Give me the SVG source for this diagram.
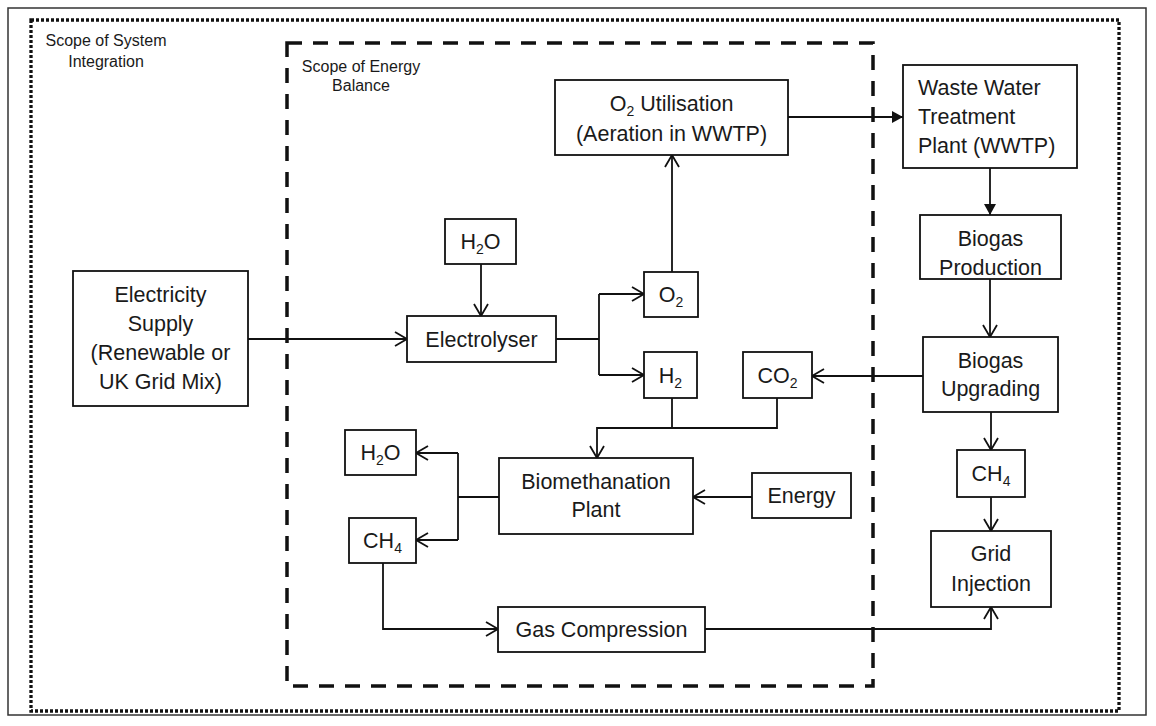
<svg xmlns="http://www.w3.org/2000/svg" width="1156" height="726" viewBox="0 0 1156 726">
<style>
.box{fill:#fff;stroke:#111;stroke-width:1.8}
.t{font-family:"Liberation Sans",Arial,sans-serif;font-size:21.5px;fill:#1a1a1a;text-anchor:middle}
.tl{font-family:"Liberation Sans",Arial,sans-serif;font-size:21.5px;fill:#1a1a1a;text-anchor:start}
.s{font-family:"Liberation Sans",Arial,sans-serif;font-size:16px;fill:#1a1a1a;text-anchor:middle}
.c{fill:none;stroke:#111;stroke-width:1.8}
.open{marker-end:url(#ao)}
.fill{marker-end:url(#af)}
</style>
<defs>
<marker id="ao" markerUnits="userSpaceOnUse" markerWidth="16" markerHeight="18" refX="13" refY="8" orient="auto">
<path d="M1,1 L13,8 L1,15" fill="none" stroke="#111" stroke-width="1.8"/>
</marker>
<marker id="af" markerUnits="userSpaceOnUse" markerWidth="14" markerHeight="14" refX="11" refY="6" orient="auto">
<path d="M0,0 L11,6 L0,12 z" fill="#111"/>
</marker>
</defs>
<rect width="1156" height="726" fill="#fff"/>
<g id="frames">
<rect x="8" y="8" width="1138" height="707" fill="none" stroke="#333" stroke-width="1.5"/>
<rect x="31" y="20" width="1088" height="691" fill="none" stroke="#111" stroke-width="3.3" stroke-dasharray="3 2"/>
<rect x="287" y="43" width="586" height="643" fill="none" stroke="#111" stroke-width="3.5" stroke-dasharray="15 11"/>
<text class="s" x="106" y="46">Scope of System</text>
<text class="s" x="106" y="67">Integration</text>
<text class="s" x="361" y="72">Scope of Energy</text>
<text class="s" x="361" y="91">Balance</text>
</g>
<g id="connectors">
<path class="c open" d="M248,339 H407"/>
<path class="c open" d="M481,264 V316"/>
<path class="c" d="M556,339 H599 M599,294 V375"/>
<path class="c open" d="M599,294 H644"/>
<path class="c open" d="M599,375 H644"/>
<path class="c open" d="M672,272 V155"/>
<path class="c fill" d="M788,117 H903"/>
<path class="c fill" d="M990,168 V215"/>
<path class="c open" d="M990,279 V337"/>
<path class="c open" d="M923,376 H812"/>
<path class="c" d="M672,398 V428"/>
<path class="c open" d="M777,398 V428 H597 V458"/>
<path class="c open" d="M752,497 H693"/>
<path class="c" d="M499,497 H458 M458,453 V540"/>
<path class="c open" d="M458,453 H416"/>
<path class="c open" d="M458,540 H416"/>
<path class="c open" d="M383,563 V629 H498"/>
<path class="c open" d="M705,629 H991 V607"/>
<path class="c open" d="M991,412 V450"/>
<path class="c open" d="M991,497 V531"/>
</g>
<g id="electricity">
<rect class="box" x="73" y="271" width="175" height="135"/>
<text class="t" x="160.5" y="302">Electricity</text>
<text class="t" x="160.5" y="331">Supply</text>
<text class="t" x="160.5" y="360">(Renewable or</text>
<text class="t" x="160.5" y="389">UK Grid Mix)</text>
</g>
<g id="h2o-in">
<rect class="box" x="445" y="219" width="71" height="45"/>
<text class="t" x="480.5" y="249">H<tspan font-size="14" dy="5">2</tspan><tspan dy="-5">O</tspan></text>
</g>
<g id="electrolyser">
<rect class="box" x="407" y="316" width="149" height="46"/>
<text class="t" x="481.5" y="347">Electrolyser</text>
</g>
<g id="o2">
<rect class="box" x="644" y="272" width="54" height="45"/>
<text class="t" x="671" y="302">O<tspan font-size="14" dy="5">2</tspan></text>
</g>
<g id="h2">
<rect class="box" x="644" y="352" width="53" height="46"/>
<text class="t" x="670.5" y="383">H<tspan font-size="14" dy="5">2</tspan></text>
</g>
<g id="co2">
<rect class="box" x="743" y="352" width="69" height="46"/>
<text class="t" x="777.5" y="383">CO<tspan font-size="14" dy="5">2</tspan></text>
</g>
<g id="o2-utilisation">
<rect class="box" x="555" y="80" width="233" height="75"/>
<text class="t" x="671.5" y="111">O<tspan font-size="14" dy="5">2</tspan><tspan dy="-5"> Utilisation</tspan></text>
<text class="t" x="671.5" y="141">(Aeration in WWTP)</text>
</g>
<g id="wwtp">
<rect class="box" x="903" y="65" width="174" height="103"/>
<text class="tl" x="918" y="95">Waste Water</text>
<text class="tl" x="918" y="124">Treatment</text>
<text class="tl" x="918" y="153">Plant (WWTP)</text>
</g>
<g id="biogas-production">
<rect class="box" x="920" y="215" width="141" height="64"/>
<text class="t" x="990.5" y="246">Biogas</text>
<text class="t" x="990.5" y="275">Production</text>
</g>
<g id="biogas-upgrading">
<rect class="box" x="923" y="337" width="135" height="75"/>
<text class="t" x="990.5" y="368">Biogas</text>
<text class="t" x="990.5" y="396">Upgrading</text>
</g>
<g id="ch4-out">
<rect class="box" x="957" y="450" width="68" height="47"/>
<text class="t" x="991" y="481">CH<tspan font-size="14" dy="5">4</tspan></text>
</g>
<g id="grid-injection">
<rect class="box" x="931" y="531" width="120" height="76"/>
<text class="t" x="991" y="561">Grid</text>
<text class="t" x="991" y="591">Injection</text>
</g>
<g id="biomethanation">
<rect class="box" x="499" y="458" width="194" height="76"/>
<text class="t" x="596" y="489">Biomethanation</text>
<text class="t" x="596" y="517">Plant</text>
</g>
<g id="energy">
<rect class="box" x="752" y="473" width="99" height="45"/>
<text class="t" x="801.5" y="503">Energy</text>
</g>
<g id="h2o-out">
<rect class="box" x="345" y="430" width="71" height="45"/>
<text class="t" x="380.5" y="460">H<tspan font-size="14" dy="5">2</tspan><tspan dy="-5">O</tspan></text>
</g>
<g id="ch4-biomethane">
<rect class="box" x="349" y="518" width="67" height="45"/>
<text class="t" x="382.5" y="548">CH<tspan font-size="14" dy="5">4</tspan></text>
</g>
<g id="gas-compression">
<rect class="box" x="498" y="607" width="207" height="45"/>
<text class="t" x="601.5" y="637">Gas Compression</text>
</g>
</svg>
